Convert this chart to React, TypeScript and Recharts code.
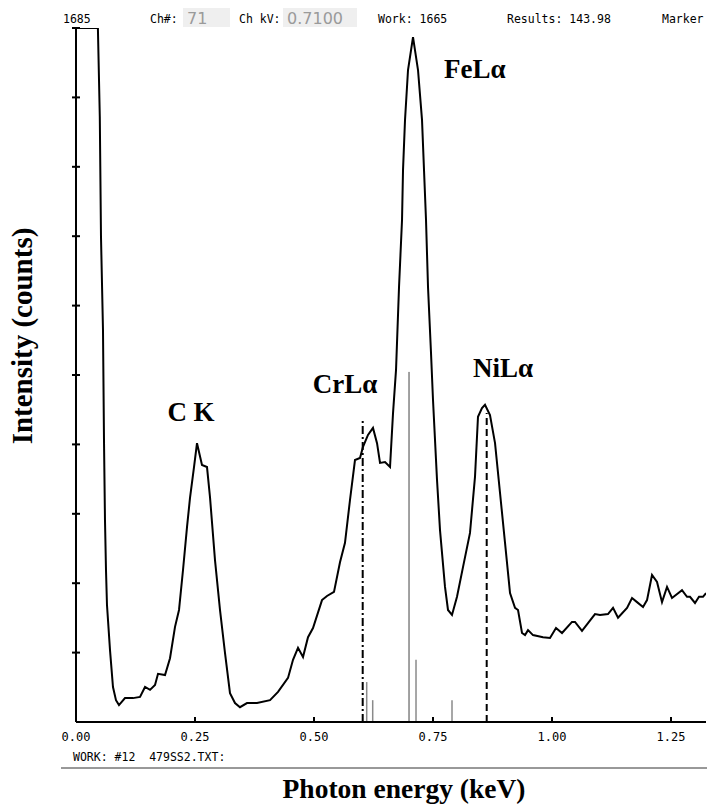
import React from 'react';
import { LineChart, Line, XAxis, YAxis, ReferenceLine, ReferenceDot } from 'recharts';

// spectrum (keV, counts)
const energy = [
  0, 0.046, 0.05, 0.0525, 0.0567, 0.0588, 0.0609, 0.063, 0.0651, 0.0714, 0.0777, 0.084, 0.0903,
  0.1029, 0.1197, 0.1345, 0.145, 0.1555, 0.166, 0.1723, 0.187, 0.1975, 0.208, 0.2164, 0.2248,
  0.2332, 0.2395, 0.2479, 0.2542, 0.2647, 0.2752, 0.2815, 0.292, 0.3025, 0.313, 0.3235, 0.334,
  0.3445, 0.3592, 0.3803, 0.4076, 0.4244, 0.4454, 0.4559, 0.4664, 0.4769, 0.4874, 0.4979, 0.5168,
  0.5273, 0.542, 0.5546, 0.5651, 0.5756, 0.5861, 0.5966, 0.6029, 0.6134, 0.6239, 0.6324, 0.6387,
  0.6492, 0.6597, 0.666, 0.6723, 0.6786, 0.6849, 0.687, 0.6912, 0.6975, 0.708, 0.7185, 0.7269,
  0.7311, 0.7353, 0.7395, 0.7458, 0.75, 0.7584, 0.7647, 0.7752, 0.7815, 0.7899, 0.8004, 0.813,
  0.8277, 0.8382, 0.8445, 0.8529, 0.8592, 0.8697, 0.8803, 0.8908, 0.9013, 0.9118, 0.9223, 0.9286,
  0.937, 0.9433, 0.9496, 0.9601, 0.9811, 0.9958, 1.0084, 1.021, 1.042, 1.0483, 1.063, 1.0756,
  1.0903, 1.1008, 1.1176, 1.1282, 1.1387, 1.1576, 1.1681, 1.1786, 1.1912, 1.1996, 1.2101, 1.2206,
  1.2311, 1.2416, 1.2521, 1.2731, 1.2836, 1.2899, 1.3004, 1.3088, 1.3172, 1.3235,
];
const counts = [
  1685, 1685, 1469, 1178, 952, 685, 490, 369, 284, 175, 85, 53, 41,
  58, 58, 61, 85, 78, 90, 117, 114, 155, 231, 272, 369,
  473, 544, 619, 677, 624, 619, 546, 393, 272, 168, 70, 46,
  36, 46, 46, 53, 73, 107, 151, 180, 158, 206, 228, 296,
  306, 316, 388, 435, 539, 636, 641, 668, 697, 714, 677, 629,
  631, 619, 750, 855, 1056, 1219, 1340, 1462, 1583, 1663, 1583, 1462,
  1340, 1219, 1056, 896, 782, 588, 466, 328, 272, 260, 304, 376,
  459, 595, 741, 762, 770, 745, 677, 556, 435, 313, 277, 272,
  216, 211, 223, 211, 206, 204, 228, 216, 243, 243, 221, 240,
  262, 260, 262, 277, 253, 277, 301, 291, 279, 296, 357, 340,
  291, 328, 301, 320, 304, 304, 289, 304, 304, 313,
];

const xTicks = [0, 0.25, 0.5, 0.75, 1.0, 1.25];
const xTickLabels = ['0.00', '0.25', '0.50', '0.75', '1.00', '1.25'];
const yTicks = [0, 168.5, 337, 505.5, 674, 842.5, 1011, 1179.5, 1348, 1516.5, 1685];

// peak labels (text, keV, counts)
const peakNames = ['C K', 'CrL\u03b1', 'FeL\u03b1', 'NiL\u03b1'];
const peakLabelE = [0.2416, 0.565, 0.838, 0.897];
const peakLabelCount = [755, 823, 1588, 862];

// element marker lines
const crLineE = 0.6023;
const crLineTop = 733;
const niLineE = 0.8628;
const niLineTop = 750;
const cursorE = 0.6996;
const cursorTop = 850;
const klmE = [0.6107, 0.6233, 0.7143, 0.7899];
const klmTop = [97, 53, 151, 53];

const data = energy.map((e, i) => ({ e, c: counts[i] }));

const mono = '"DejaVu Sans Mono", monospace';
const serif = '"Liberation Serif", "Times New Roman", serif';

const YTick = (props: any) => {
  const { x, y, payload } = props;
  if (payload.value === 0) return <g />;
  return <line x1={x - 4} x2={x + 4} y1={y} y2={y} stroke="#000" strokeWidth={2} />;
};

const XTick = (props: any) => {
  const { x, y, payload } = props;
  const idx = xTicks.indexOf(payload.value);
  return (
    <g>
      {payload.value > 0 && <line x1={x} x2={x} y1={y} y2={y - 5} stroke="#000" strokeWidth={2} />}
      <text x={x} y={y + 19} textAnchor="middle" fontFamily={mono} fontSize={12} fill="#000">
        {idx >= 0 ? xTickLabels[idx] : payload.value}
      </text>
    </g>
  );
};

export default function App() {
  return (
    <div style={{ position: 'absolute', left: 0, top: 0, width: 707, height: 805, background: '#fff' }}>
      <LineChart width={707} height={805} data={data} margin={{ top: 28, right: 1, bottom: 63, left: 66 }}>
        <XAxis
          dataKey="e"
          type="number"
          domain={[0, 1.3235]}
          ticks={xTicks}
          allowDataOverflow
          height={20}
          tickSize={0}
          tickMargin={0}
          tickLine={false}
          axisLine={{ stroke: '#000', strokeWidth: 2 }}
          tick={<XTick />}
        />
        <YAxis
          type="number"
          domain={[0, 1685]}
          ticks={yTicks}
          allowDataOverflow
          width={10}
          tickSize={0}
          tickMargin={0}
          tickLine={false}
          axisLine={{ stroke: '#000', strokeWidth: 2 }}
          tick={<YTick />}
        />
        {klmE.map((e, i) => (
          <ReferenceLine
            key={`klm-${i}`}
            segment={[{ x: e, y: 0 }, { x: e, y: klmTop[i] }]}
            stroke="#8a8a8a"
            strokeWidth={1.5}
          />
        ))}
        <ReferenceLine segment={[{ x: cursorE, y: 0 }, { x: cursorE, y: cursorTop }]} stroke="#444" strokeWidth={1} />
        <ReferenceLine
          segment={[{ x: crLineE, y: 0 }, { x: crLineE, y: crLineTop }]}
          stroke="#000"
          strokeWidth={2}
          strokeDasharray="8 3 2 3"
        />
        <ReferenceLine
          segment={[{ x: niLineE, y: 0 }, { x: niLineE, y: niLineTop }]}
          stroke="#000"
          strokeWidth={2}
          strokeDasharray="7 4"
        />
        <Line type="linear" dataKey="c" stroke="#000" strokeWidth={2} dot={false} isAnimationActive={false} />
        {peakNames.map((name, i) => (
          <ReferenceDot
            key={name}
            x={peakLabelE[i]}
            y={peakLabelCount[i]}
            r={0}
            stroke="none"
            fill="none"
            label={{
              value: name,
              position: 'center',
              fontFamily: serif,
              fontWeight: 'bold',
              fontSize: 27,
              fill: '#000',
            }}
          />
        ))}
      </LineChart>
      <svg
        width={707}
        height={805}
        style={{ position: 'absolute', left: 0, top: 0, pointerEvents: 'none' }}
      >
        <g fontFamily={mono} fontSize={11.5} fill="#000">
          <text x={63} y={23}>1685</text>
          <text x={150} y={23}>Ch#:</text>
          <rect x={183} y={8} width={47} height={19} fill="#efefef" />
          <text x={187} y={24} fontFamily='"DejaVu Sans", sans-serif' fontSize={16} fill="#9a9a9a">71</text>
          <text x={239} y={23}>Ch kV:</text>
          <rect x={283} y={8} width={74} height={19} fill="#efefef" />
          <text x={287} y={24} fontFamily='"DejaVu Sans", sans-serif' fontSize={16} fill="#9a9a9a">0.7100</text>
          <text x={378} y={23}>Work: 1665</text>
          <text x={507} y={23}>Results: 143.98</text>
          <text x={662} y={23}>Marker</text>
        </g>
        <text x={73} y={761} fontFamily={mono} fontSize={11.5} fill="#000" style={{ whiteSpace: 'pre' }}>
          {'WORK: #12  479SS2.TXT:'}
        </text>
        <line x1={61} x2={707} y1={768} y2={768} stroke="#333" strokeWidth={1} />
        <text
          x={404}
          y={798}
          textAnchor="middle"
          fontFamily={serif}
          fontWeight="bold"
          fontSize={27.5}
          fill="#000"
        >
          Photon energy (keV)
        </text>
        <text
          x={32}
          y={336}
          transform="rotate(-90, 32, 336)"
          textAnchor="middle"
          fontFamily={serif}
          fontWeight="bold"
          fontSize={29}
          fill="#000"
        >
          Intensity (counts)
        </text>
      </svg>
    </div>
  );
}
